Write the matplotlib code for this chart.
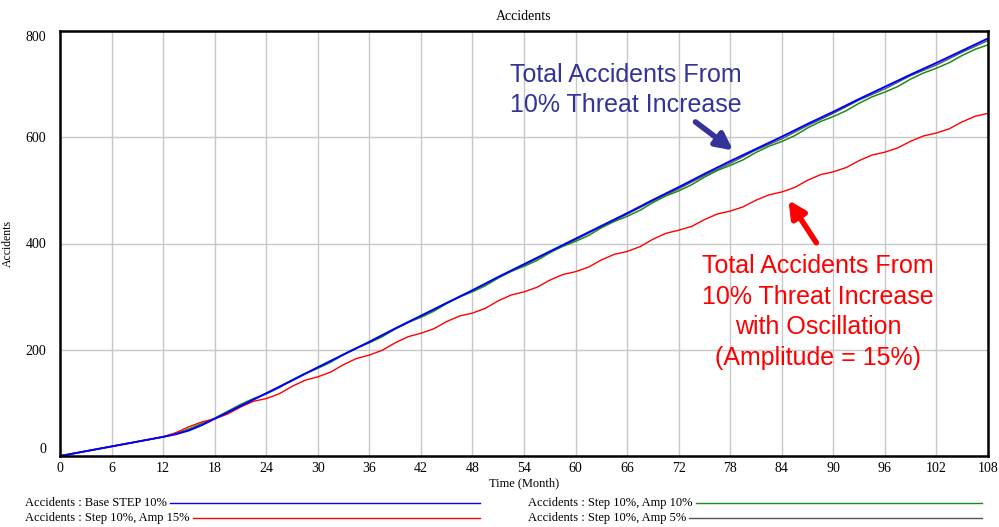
import matplotlib.pyplot as plt
from matplotlib.lines import Line2D

# Base STEP 10%
base_t = [0, 6, 12, 13.5, 15, 16.5, 18, 19.5, 21, 22.5, 24, 27, 30, 33, 36, 39, 42, 45, 48,
          51, 54, 57, 60, 63, 66, 69, 72, 75, 78, 81, 84, 87, 90, 93, 96, 99, 102, 105, 108]
base_v = [0, 18, 36, 41, 48, 58, 70, 82, 94, 106, 118, 142, 167, 191, 215, 240, 264, 288, 312,
          337, 361, 385, 409, 433, 457, 482, 506, 531, 555, 578, 601, 625, 648, 672, 695, 718, 740, 763, 786]

# Step 10%, Amp 5%
amp5_t = [0, 6, 12, 15, 18, 21, 24, 27, 30, 33, 36, 39, 42, 45, 48, 51, 54, 57, 60, 63, 66,
          69, 72, 75, 78, 81, 84, 87, 90, 93, 96, 99, 102, 105, 108]
amp5_v = [0, 18, 36, 49, 71, 95, 118, 143, 166, 191, 214, 239, 263, 288, 311, 336, 359, 384, 407, 432, 455,
          480, 503, 528, 551, 576, 597, 622, 645, 670, 691, 716, 736, 760, 782]

# Step 10%, Amp 10%
amp10_t = [0, 6, 12, 13.5, 15, 16.5, 18, 19.5, 21, 22.5, 24, 25.5, 27, 28.5, 30, 31.5, 33, 34.5, 36,
           37.5, 39, 40.5, 42, 43.5, 45, 46.5, 48, 49.5, 51, 52.5, 54, 55.5, 57, 58.5, 60,
           61.5, 63, 64.5, 66, 67.5, 69, 70.5, 72, 73.5, 75, 76.5, 78, 79.5, 81, 82.5, 84,
           85.5, 87, 88.5, 90, 91.5, 93, 94.5, 96, 97.5, 99, 100.5, 102, 103.5, 105, 106.5, 108]
amp10_v = [0, 18, 36, 42, 51, 61, 71, 84, 97, 108, 117, 128.5, 143, 155.5, 165, 176.5, 191, 203.5, 213,
           224.5, 239, 251.5, 261, 272.5, 287, 299.5, 309, 320.5, 335, 347.5, 357, 368, 382.5, 394.5, 404,
           415, 429.5, 441.5, 451, 462.5, 477, 489.5, 499, 510.5, 525, 537.5, 547, 557.5, 571.5, 583, 592,
           603, 617.5, 629.5, 639, 650, 664, 676, 685, 695.5, 709.5, 721, 730, 740.5, 754, 765.5, 774]

# Step 10%, Amp 15%
amp15_t = amp10_t
amp15_v = [0, 18, 36, 44, 55, 64, 70, 79, 92, 103, 108, 117, 131, 142.5, 149, 158, 172, 183.5, 190,
           199, 213, 224.5, 231, 239.5, 253, 263.5, 269, 278, 292, 303, 309, 317.5, 331, 341.5, 347,
           355.5, 369, 379.5, 385, 394, 408, 419, 425, 432, 445, 455.5, 461, 469, 481.5, 491.5, 497,
           505.5, 519, 529.5, 535, 543, 556, 566.5, 572, 580, 592.5, 602.5, 608, 616, 629, 639.5, 645]

x_ticks = list(range(0, 109, 6))
y_ticks = [0, 200, 400, 600, 800]

legend_left = [("Accidents : Base STEP 10%", "#0000ff"),
               ("Accidents : Step 10%, Amp 15%", "#ff0000")]
legend_right = [("Accidents : Step 10%, Amp 10%", "#1a8c1a"),
                ("Accidents : Step 10%, Amp 5%", "#555555")]

plt.rcParams['font.family'] = ['Liberation Serif', 'DejaVu Serif']

fig = plt.figure(figsize=(9.99, 5.27), dpi=100)
ax = fig.add_axes([60 / 999, 71 / 527, 928 / 999, 425 / 527])

ax.plot(amp5_t, amp5_v, color="#555555", lw=1.0)
ax.plot(amp10_t, amp10_v, color="#1a8c1a", lw=1.1)
ax.plot(amp15_t, amp15_v, color="#ff0000", lw=1.0)
ax.plot(base_t, base_v, color="#0000ff", lw=1.4)

ax.set_xlim(0, 108)
ax.set_ylim(0, 800)
ax.set_xticks(x_ticks)
ax.set_yticks(y_ticks)
ax.grid(True, color="#c8c8c8", lw=1)
ax.set_axisbelow(True)
ax.tick_params(axis='both', length=0, labelsize=10)
ax.tick_params(axis='x', pad=4)
ax.tick_params(axis='y', pad=10)
for s in ax.spines.values():
    s.set_linewidth(1.8)
    s.set_color("black")

ylabels = ax.get_yticklabels()
ylabels[0].set_va('bottom')
ylabels[-1].set_va('top')

ax.set_title("Accidents", fontsize=10, pad=8)
ax.set_ylabel("Accidents", fontsize=8.5)
ax.yaxis.set_label_coords((14 - 60) / 928, 0.5)
fig.text(524 / 999, 1 - 483 / 527, "Time (Month)", ha='center', va='center', fontsize=9)

# annotations
ax.text(65.8, 689, "Total Accidents From\n10% Threat Increase", color="#333399",
        fontsize=18, ha='center', va='center', family='Liberation Sans', linespacing=1.3)
ax.annotate("", xy=(78.6, 572), xytext=(73.7, 632),
            arrowprops=dict(arrowstyle="-|>,head_width=0.5,head_length=1.0", color="#333399", lw=4))
ax.text(88.2, 271, "Total Accidents From\n10% Threat Increase\nwith Oscillation\n(Amplitude = 15%)",
        color="#ff0000", fontsize=18, ha='center', va='center', family='Liberation Sans', linespacing=1.35)
ax.annotate("", xy=(84.6, 486), xytext=(88.2, 397),
            arrowprops=dict(arrowstyle="-|>,head_width=0.5,head_length=1.0", color="#ff0000", lw=4))

# legend rows below the plot
renderer = fig.canvas.get_renderer()
rows_y = [1 - 503 / 527, 1 - 518 / 527]
for (label, col), y in zip(legend_left, rows_y):
    t = fig.text(25 / 999, y, label, fontsize=9, va='center')
    bb = t.get_window_extent(renderer)
    fig.add_artist(Line2D([(bb.x1 + 3) / 999, 480 / 999], [y, y], color=col, lw=1.0))
for (label, col), y in zip(legend_right, rows_y):
    t = fig.text(528 / 999, y, label, fontsize=9, va='center')
    bb = t.get_window_extent(renderer)
    fig.add_artist(Line2D([(bb.x1 + 3) / 999, 982 / 999], [y, y], color=col, lw=1.0))

fig.savefig("out.png", dpi=100)
